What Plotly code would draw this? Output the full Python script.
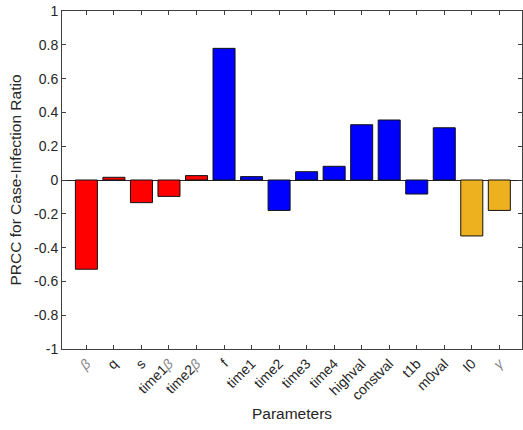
import plotly.graph_objects as go

params = ["β", "q", "s", "time1 β", "time2 β", "f", "time1", "time2", "time3", "time4",
          "highval", "constval", "t1b", "m0val", "I0", "γ"]
prcc = [-0.528, 0.016, -0.134, -0.097, 0.026, 0.779, 0.020, -0.180, 0.049, 0.081,
        0.327, 0.355, -0.083, 0.309, -0.331, -0.180]
groups = ["r", "r", "r", "r", "r", "b", "b", "b", "b", "b", "b", "b", "b", "b", "y", "y"]
group_colors = {"r": "#FF0000", "b": "#0000FF", "y": "#EDB120"}
yticks = [-1, -0.8, -0.6, -0.4, -0.2, 0, 0.2, 0.4, 0.6, 0.8, 1]

def fmt_label(s):
    out = ""
    for ch in s:
        if ch in "βγ":
            out += "<span style='color:#8a8a8a'><i>" + ch + "</i></span>"
        elif ch == " ":
            continue
        else:
            out += ch
    return out

xs = list(range(len(params)))
fig = go.Figure(go.Bar(
    x=xs, y=prcc, width=0.8,
    marker=dict(color=[group_colors[g] for g in groups], line=dict(color="#111111", width=1)),
))

axis_color = "#404040"
fig.update_layout(
    width=523, height=430,
    margin=dict(l=62, r=1, t=11, b=81),
    paper_bgcolor="white", plot_bgcolor="white",
    font=dict(family="Liberation Sans, Arial, sans-serif", color="#262626", size=14),
    showlegend=False,
    xaxis=dict(
        range=[-0.886, 15.824], tickmode="array", tickvals=xs,
        ticktext=[fmt_label(p) for p in params], tickangle=-45,
        ticks="inside", ticklen=4, tickcolor=axis_color,
        showline=True, linecolor=axis_color, linewidth=1, mirror="ticks",
        showgrid=False, zeroline=False, automargin=False,
        ticklabeloverflow="allow",
        title=dict(text="Parameters", font=dict(size=15.5), standoff=5),
        tickfont=dict(size=14),
    ),
    yaxis=dict(
        range=[-1, 1], tickmode="array", tickvals=yticks,
        ticktext=[("%g" % v) for v in yticks],
        ticks="inside", ticklen=4, tickcolor=axis_color,
        showline=True, linecolor=axis_color, linewidth=1, mirror="ticks",
        showgrid=False, zeroline=True, zerolinecolor="#262626", zerolinewidth=1,
        automargin=False, ticklabeloverflow="allow",
        title=dict(text="PRCC for Case-Infection Ratio", font=dict(size=15.5), standoff=8),
        tickfont=dict(size=14),
    ),
)
fig.write_html("out.html", config={"displayModeBar": False},
               post_script="document.body.style.margin='0';")
